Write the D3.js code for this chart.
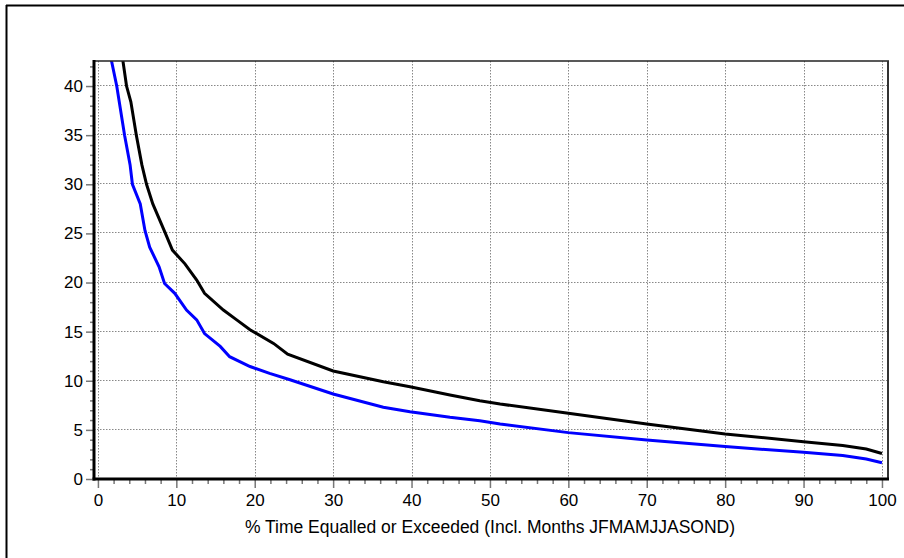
<!DOCTYPE html>
<html>
<head>
<meta charset="utf-8">
<script src="https://cdn.jsdelivr.net/npm/d3@7"></script>
<style>
  body { margin: 0; background: #fff; }
  svg { display: block; font-family: "Liberation Sans", Arial, sans-serif; }
</style>
</head>
<body>
<svg id="chart" width="904" height="558"></svg>
<script>
// duration curves: [% time equalled or exceeded, value]
var blackSeries = [
  [2.9, 44], [3.2, 42.5], [3.65, 40], [4.2, 38.4], [4.9, 35], [5.6, 32], [6.2, 30],
  [7.0, 28], [8.5, 25.2], [9.5, 23.3], [11.1, 21.9], [12.6, 20.25], [13.6, 18.9],
  [16.0, 17.2], [17.7, 16.2], [19.4, 15.2], [22.4, 13.8], [24.2, 12.7], [30, 11.0],
  [36.4, 9.9], [39.8, 9.4], [44.9, 8.55], [48.7, 7.97], [51.3, 7.63], [60, 6.69],
  [70, 5.6], [80, 4.58], [90, 3.8], [95, 3.4], [98, 3.05], [100, 2.6]
];
var blueSeries = [
  [1.5, 44], [1.75, 42.5], [2.4, 40], [3.4, 35], [4.1, 32], [4.4, 30], [5.4, 28],
  [6.0, 25.3], [6.6, 23.6], [7.8, 21.6], [8.5, 19.9], [9.8, 18.9], [11.3, 17.2],
  [12.6, 16.2], [13.6, 14.8], [15.6, 13.5], [16.8, 12.45], [19.4, 11.45], [21.9, 10.75],
  [24.5, 10.1], [30, 8.65], [36.4, 7.3], [39.8, 6.85], [44.9, 6.28], [48.7, 5.94],
  [51.3, 5.6], [60, 4.72], [70, 3.97], [80, 3.3], [90, 2.72], [95, 2.4], [98, 2.03], [100, 1.66]
];
var xTicks = [0, 10, 20, 30, 40, 50, 60, 70, 80, 90, 100];
var yTicks = [0, 5, 10, 15, 20, 25, 30, 35, 40];
var xTitle = "% Time Equalled or Exceeded (Incl. Months JFMAMJJASOND)";

(function () {
  var svg = d3.select("#chart");
  var pl = 94, pr = 888, pt = 61, pb = 479;

  var x = d3.scaleLinear().domain([-0.5, 100.77]).range([pl, pr]);
  var y = d3.scaleLinear().domain([0, 42.55]).range([pb, pt]);

  // outer frame (only top and left edges show)
  svg.append("line").attr("x1", 6).attr("x2", 904).attr("y1", 5.5).attr("y2", 5.5)
    .attr("stroke", "#000").attr("stroke-width", 2);
  svg.append("line").attr("x1", 6.5).attr("x2", 6.5).attr("y1", 5).attr("y2", 558)
    .attr("stroke", "#000").attr("stroke-width", 2);

  // grid
  var grid = svg.append("g").attr("stroke", "#888").attr("stroke-width", 1)
    .attr("stroke-dasharray", "1.5,1.5");
  grid.selectAll(".gx").data(xTicks).join("line")
    .attr("x1", d => Math.round(x(d)) + 0.5).attr("x2", d => Math.round(x(d)) + 0.5)
    .attr("y1", pt).attr("y2", pb);
  grid.selectAll(".gy").data(yTicks).join("line")
    .attr("y1", d => Math.round(y(d)) - 0.5).attr("y2", d => Math.round(y(d)) - 0.5)
    .attr("x1", pl).attr("x2", pr);

  // curves
  svg.append("clipPath").attr("id", "plotclip")
    .append("rect").attr("x", pl).attr("y", pt).attr("width", pr - pl).attr("height", pb - pt);
  var line = d3.line().x(d => x(d[0])).y(d => y(d[1]));
  var plot = svg.append("g").attr("clip-path", "url(#plotclip)");
  plot.append("path").datum(blueSeries).attr("d", line)
    .attr("fill", "none").attr("stroke", "#0000ff").attr("stroke-width", 3);
  plot.append("path").datum(blackSeries).attr("d", line)
    .attr("fill", "none").attr("stroke", "#000").attr("stroke-width", 3);

  // plot frame top/right
  svg.append("line").attr("x1", pl).attr("x2", pr + 1).attr("y1", pt).attr("y2", pt)
    .attr("stroke", "#222").attr("stroke-width", 1.5);
  svg.append("line").attr("x1", pr).attr("x2", pr).attr("y1", pt).attr("y2", pb)
    .attr("stroke", "#333").attr("stroke-width", 2);

  // x axis
  var xAxis = d3.axisBottom(x).tickValues(xTicks).tickSize(9).tickPadding(6);
  var gx = svg.append("g").attr("transform", "translate(0," + pb + ")").call(xAxis);
  gx.selectAll(".tick line").attr("stroke", "#777").attr("stroke-width", 1.5);
  gx.select(".domain").remove();
  var xMinor = d3.axisBottom(x).tickValues(d3.range(0, 101, 2).filter(d => d % 10)).tickSize(5).tickFormat("");
  var gxm = svg.append("g").attr("transform", "translate(0," + pb + ")").call(xMinor);
  gxm.selectAll(".tick line").attr("stroke", "#777").attr("stroke-width", 1.5);
  gxm.select(".domain").remove();
  svg.append("line").attr("x1", pl - 1.5).attr("x2", pr + 1).attr("y1", pb).attr("y2", pb)
    .attr("stroke", "#000").attr("stroke-width", 3);

  // y axis
  var yAxis = d3.axisLeft(y).tickValues(yTicks).tickSize(8).tickPadding(3);
  var gy = svg.append("g").attr("transform", "translate(" + pl + ",0)").call(yAxis);
  gy.selectAll(".tick line").attr("stroke", "#777").attr("stroke-width", 1.5);
  gy.select(".domain").remove();
  var yMinor = d3.axisLeft(y).tickValues(d3.range(1, 43, 1).filter(d => d % 5)).tickSize(4).tickFormat("");
  var gym = svg.append("g").attr("transform", "translate(" + pl + ",0)").call(yMinor);
  gym.selectAll(".tick line").attr("stroke", "#777").attr("stroke-width", 1.5);
  gym.select(".domain").remove();
  svg.append("line").attr("x1", pl).attr("x2", pl).attr("y1", pt - 1).attr("y2", pb + 1.5)
    .attr("stroke", "#000").attr("stroke-width", 3);

  svg.selectAll(".tick text").attr("font-size", 17).attr("fill", "#000")
    .attr("font-family", "Liberation Sans, Arial, sans-serif");

  svg.append("text").attr("x", 490).attr("y", 533).attr("text-anchor", "middle")
    .attr("font-size", 17.5).attr("fill", "#000").text(xTitle);
})();
</script>
</body>
</html>
